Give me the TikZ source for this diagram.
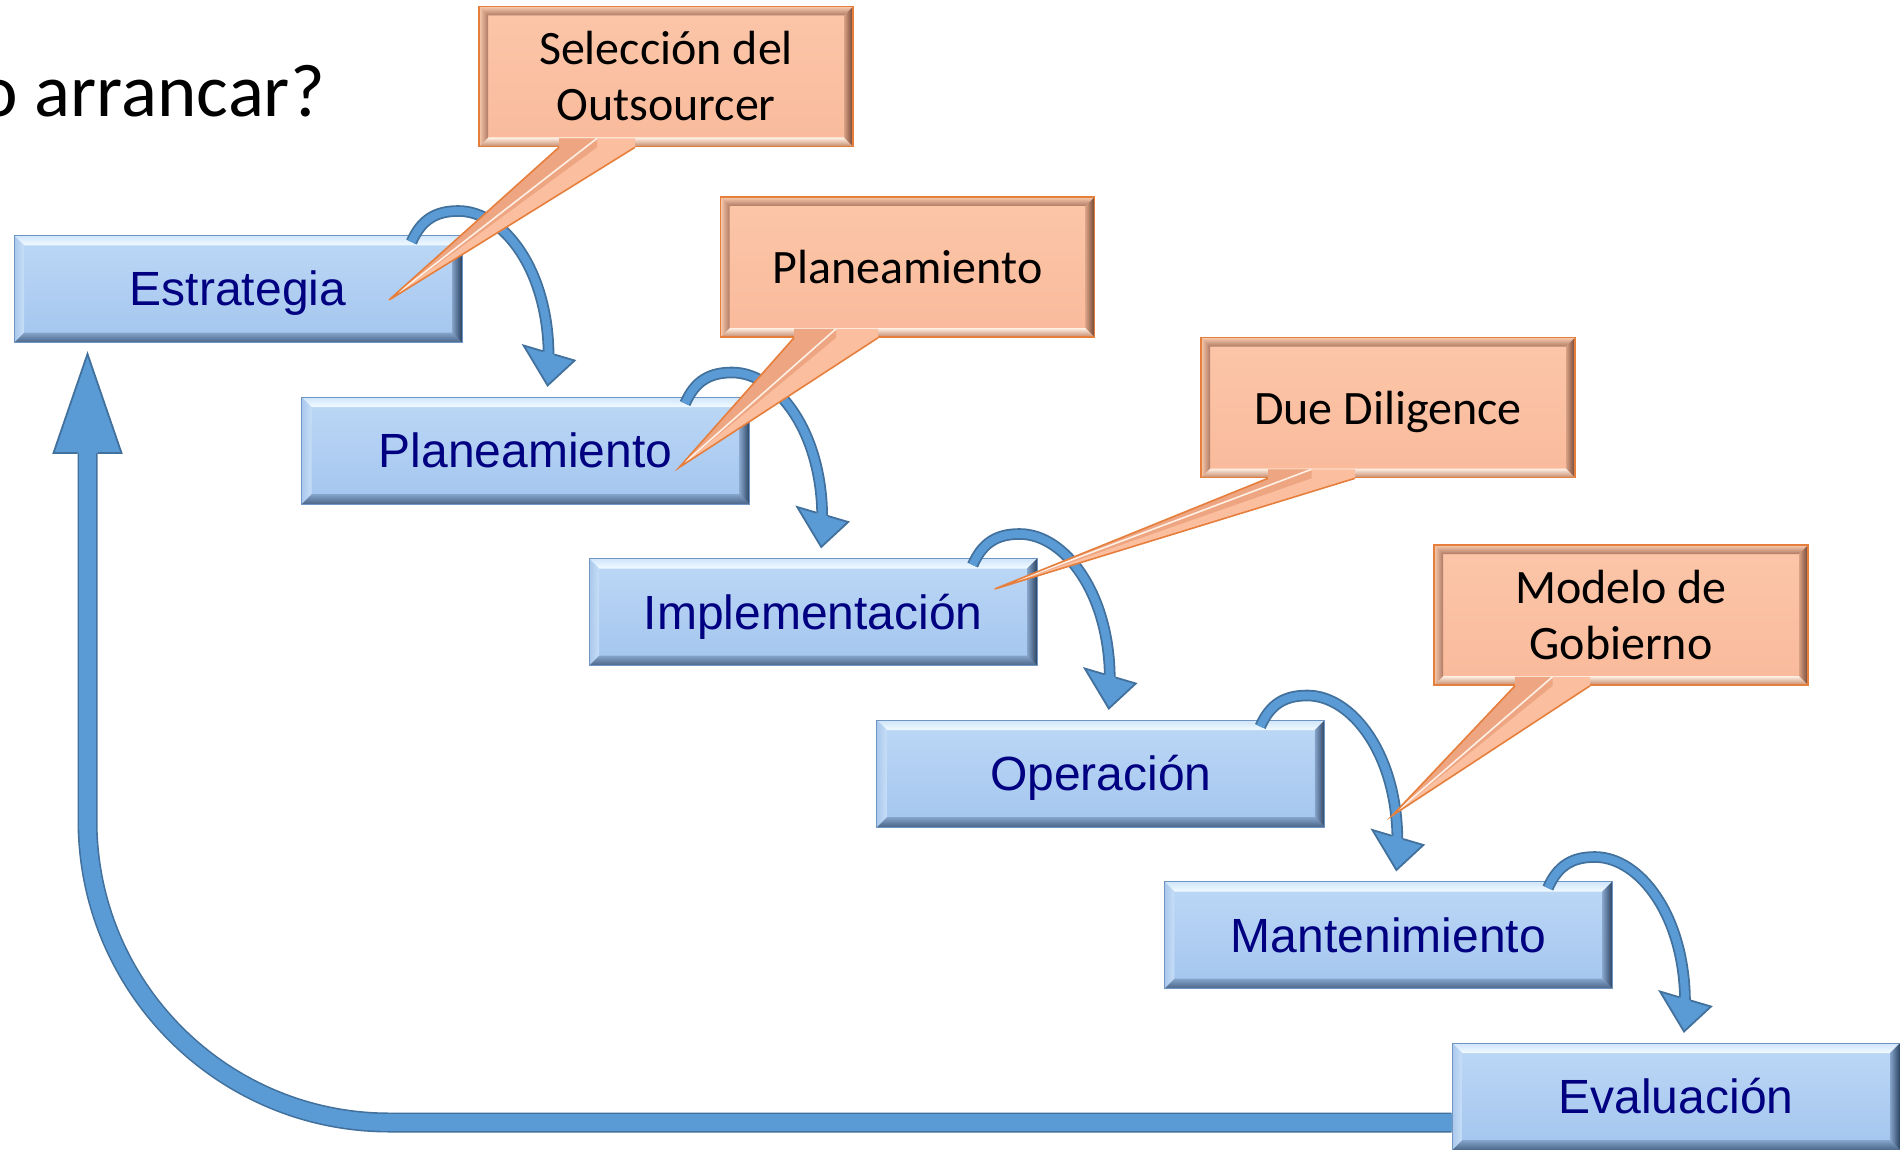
\documentclass[tikz,border=0pt]{standalone}
\usepackage{fontspec}
\usetikzlibrary{calc}
\newfontfamily\stagefont{Liberation Sans}
\newfontfamily\calfont{Carlito}
\definecolor{navytext}{HTML}{000080}
\definecolor{faceTop}{HTML}{BDD8F6}
\definecolor{faceBot}{HTML}{A3C5EE}
\definecolor{stageline}{HTML}{6F95C2}
\definecolor{bvTopA}{HTML}{CFE5FA}
\definecolor{bvTopB}{HTML}{F2FAFF}
\definecolor{bvBotA}{HTML}{86A5CA}
\definecolor{bvBotB}{HTML}{4A6689}
\definecolor{bvLA}{HTML}{A9C8EC}
\definecolor{bvLB}{HTML}{C7DEF7}
\definecolor{bvRA}{HTML}{86A4CA}
\definecolor{bvRB}{HTML}{2A4260}
\definecolor{calTop}{HTML}{FCC6A9}
\definecolor{calBot}{HTML}{F9BA9B}
\definecolor{calline}{HTML}{E67E3C}
\definecolor{cfTopA}{HTML}{F9CBAE}
\definecolor{cfTopB}{HTML}{B07A64}
\definecolor{cfBotA}{HTML}{FFF1E6}
\definecolor{cfBotB}{HTML}{C68A6A}
\definecolor{cfRA}{HTML}{D9A184}
\definecolor{cfRB}{HTML}{6F4535}
\definecolor{tailL}{HTML}{EDA582}
\definecolor{tailR}{HTML}{FBBF9F}
\definecolor{taillight}{HTML}{FFF0E6}
\definecolor{arrowblue}{HTML}{5B9BD5}
\definecolor{arrowdark}{HTML}{41719C}

\tikzset{
  stage/.style={rectangle, draw=stageline, line width=0.5pt,
    top color=faceTop, bottom color=faceBot,
    minimum width=224pt, minimum height=53.5pt, inner sep=0pt,
    text=navytext, font=\stagefont\fontsize{24}{28}\selectfont,
    text height=17pt, text depth=0pt,
    path picture={
      \path (path picture bounding box.south west) coordinate (q1)
            (path picture bounding box.north east) coordinate (q3);
      \path (q1 |- q3) coordinate (q2) (q3 |- q1) coordinate (q4);
      \shade[top color=bvTopA, bottom color=bvTopB] (q2) -- (q3) -- ($(q3)+(-5pt,-5pt)$) -- ($(q2)+(5pt,-5pt)$) -- cycle;
      \shade[top color=bvBotA, bottom color=bvBotB] (q1) -- (q4) -- ($(q4)+(-5pt,5pt)$) -- ($(q1)+(5pt,5pt)$) -- cycle;
      \shade[left color=bvLA, right color=bvLB] (q1) -- (q2) -- ($(q2)+(5pt,-5pt)$) -- ($(q1)+(5pt,5pt)$) -- cycle;
      \shade[left color=bvRA, right color=bvRB] (q4) -- (q3) -- ($(q3)+(-5pt,-5pt)$) -- ($(q4)+(-5pt,5pt)$) -- cycle;
    }},
  callout/.style={rectangle, draw=calline, line width=0.8pt,
    top color=calTop, bottom color=calBot,
    minimum width=187pt, minimum height=70pt, inner sep=0pt, align=center,
    text=black, font=\calfont\fontsize{24}{28}\selectfont,
    path picture={
      \path (path picture bounding box.south west) coordinate (q1)
            (path picture bounding box.north east) coordinate (q3);
      \path (q1 |- q3) coordinate (q2) (q3 |- q1) coordinate (q4);
      \shade[top color=cfTopA, bottom color=cfTopB] (q2) -- (q3) -- ($(q3)+(-4.5pt,-4.5pt)$) -- ($(q2)+(4.5pt,-4.5pt)$) -- cycle;
      \shade[top color=cfBotA, bottom color=cfBotB] (q1) -- (q4) -- ($(q4)+(-4.5pt,4.5pt)$) -- ($(q1)+(4.5pt,4.5pt)$) -- cycle;
      \shade[left color=cfTopA, right color=cfTopB] (q1) -- (q2) -- ($(q2)+(4.5pt,-4.5pt)$) -- ($(q1)+(4.5pt,4.5pt)$) -- cycle;
      \shade[left color=cfRA, right color=cfRB] (q4) -- (q3) -- ($(q3)+(-4.5pt,-4.5pt)$) -- ($(q4)+(-4.5pt,4.5pt)$) -- cycle;
    }},
  oneline/.style={text height=17pt, text depth=0pt},
  arrowshaft/.style={draw=arrowblue, line width=4pt, preaction={draw=arrowdark, line width=5.8pt}},
  bigshaft/.style={draw=arrowblue, line width=8.4pt, preaction={draw=arrowdark, line width=10pt}},
  headfill/.style={fill=arrowblue},
  headline/.style={draw=arrowdark, line width=0.9pt, line join=miter},
  tailedge/.style={draw=calline, line width=0.8pt, line join=miter},
}

\newcommand\stagearrow[3]{%
  \coordinate (hm) at ($(#2.north)+(9+#3,-46)$);
  \draw[arrowshaft] ($(#1.north east)+(-65+#3,7)$) .. controls ($(#1.north east)+(-55+#3,-16)$) and ($(#1.north east)+(-40+#3,-24)$) .. ($(#1.north east)+(-18+#3,-24)$) .. controls ($(#1.north east)+(27+#3,-24)$) and ($(hm)+(0,-80)$) .. ($(hm)+(0,6)$);
  \fill[headfill] ($(hm)+(-1,35)$) -- ($(hm)+(-25,-5)$) -- ($(hm)+(26,10)$) -- cycle;
  \draw[headline] ($(hm)+(-5.7,0.7)$) -- ($(hm)+(-25,-5)$) -- ($(hm)+(-1,35)$) -- ($(hm)+(26,10)$) -- ($(hm)+(5.7,4)$);
}

\newcommand\calltail[4]{%
  \coordinate (ta) at ($(#1.south)+(#2,0)$);
  \coordinate (tb) at ($(#1.south)+(#3,0)$);
  \coordinate (tm) at ($(ta)!0.5!(tb)$);
  \fill[tailR] ($(ta)+(0,-9)$) -- (ta) -- (#4) -- (tb) -- ($(tb)+(0,-9)$) -- cycle;
  \fill[tailL] ($(ta)+(0,-9)$) -- (ta) -- (#4) -- (tm) -- ($(tm)+(0,-9)$) -- cycle;
  \draw[taillight, line width=0.8pt] ($(tm)+(0,-9)$) -- (#4);
  \draw[tailedge] (ta) -- (#4) -- (tb);
}

\begin{document}
\begin{tikzpicture}[x=0.5pt, y=-0.5pt]
\useasboundingbox (0,0) rectangle (1900,1150);
\fill[white] (0,0) rectangle (1900,1150);

% stages
\node[stage] (s1) at (238,289) {Estrategia};
\node[stage] (s2) at (525.6,450.5) {Planeamiento};
\node[stage] (s3) at (813.2,612) {Implementación};
\node[stage] (s4) at (1100.8,773.5) {Operación};
\node[stage] (s5) at (1388.4,935) {Mantenimiento};
\node[stage] (s6) at (1676,1096.5) {Evaluación};

% return arrow
\coordinate (rtip) at ($(s1.south west)+(74,11)$);
\coordinate (rbase) at ($(rtip)+(0,99)$);
\coordinate (rstart) at ($(s6.west)+(0,26)$);
\coordinate (rcorner) at (rtip |- rstart);
\draw[bigshaft] (rstart) -- ($(rcorner)+(302,0)$) .. controls ($(rcorner)+(135,0)$) and ($(rcorner)+(0,-135)$) .. ($(rcorner)+(0,-302)$) -- ($(rbase)+(0,-6)$);
\fill[headfill] (rtip) -- ($(rbase)+(-34,0)$) -- ($(rbase)+(34,0)$) -- cycle;
\draw[headline] ($(rbase)+(-10,0)$) -- ($(rbase)+(-34,0)$) -- (rtip) -- ($(rbase)+(34,0)$) -- ($(rbase)+(10,0)$);

% step arrows
\stagearrow{s1}{s2}{14}
\stagearrow{s2}{s3}{0}
\stagearrow{s3}{s4}{0}
\stagearrow{s4}{s5}{0}
\stagearrow{s5}{s6}{0}

% callouts
\coordinate (k1) at ($(s1.center)+(151,11)$);
\coordinate (k2) at ($(s2.center)+(153.5,17)$);
\coordinate (k3) at ($(s3.center)+(181.5,-23)$);
\coordinate (k4) at ($(s4.north east)+(67,96)$);

\node[callout] (c1) at (666,76.5) {Selección del\\Outsourcer};
\calltail{c1}{-107}{-31}{k1}
\node[callout, oneline] (c2) at (907.5,267) {Planeamiento};
\calltail{c2}{-113.5}{-29.5}{k2}
\node[callout, oneline] (c3) at (1388,407.5) {Due Diligence};
\calltail{c3}{-120}{-33}{k3}
\node[callout] (c4) at (1621,615) {Modelo de\\Gobierno};
\calltail{c4}{-106}{-31}{k4}

% title fragment
\node[anchor=base west, inner sep=0pt, font=\calfont\fontsize{37.5}{42}\selectfont] (title) at (-22,117) {o arrancar?};
\end{tikzpicture}
\end{document}
